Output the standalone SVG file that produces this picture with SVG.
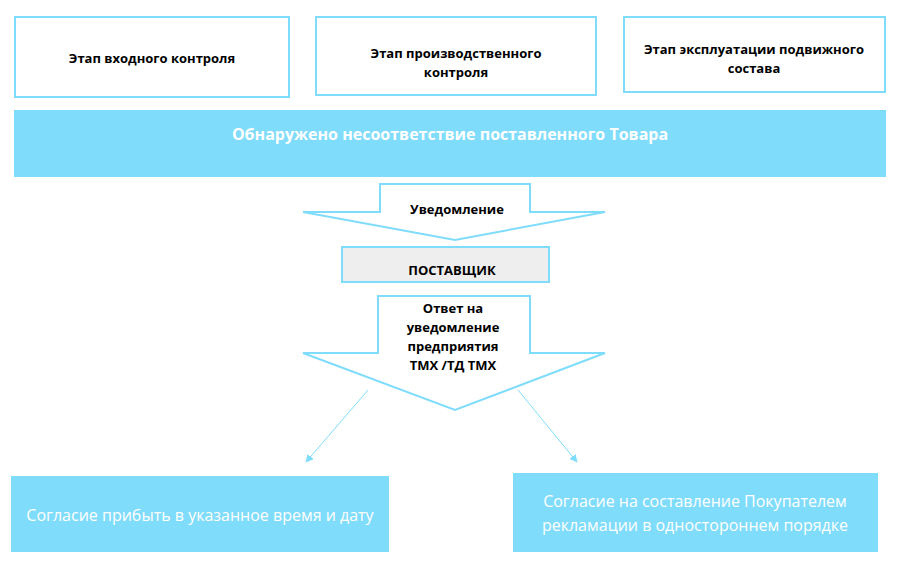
<svg xmlns="http://www.w3.org/2000/svg" width="898" height="571" viewBox="0 0 898 571">
<style>
.b{fill:#fff;stroke:#80dcfb;stroke-width:2}
.f{fill:#80dcfb}
.t{font-family:"Open Sans","Liberation Sans",sans-serif;font-weight:bold;font-size:13px;fill:#000;text-anchor:middle}
.w{font-family:"Open Sans","Liberation Sans",sans-serif;font-size:16px;fill:#fff;text-anchor:middle}
.c{stroke:#80dcfb;stroke-width:1;fill:none}
</style>
<defs><marker id="a" viewBox="0 0 10 10" refX="9" refY="5" markerWidth="8" markerHeight="8" orient="auto"><path d="M0,0L10,5L0,10z" fill="#80dcfb"/></marker></defs>
<rect width="898" height="571" fill="#fff"/>
<g id="n1"><rect class="b" x="15" y="17" width="274" height="80"/><text class="t" x="152" y="63">Этап входного контроля</text></g>
<g id="n2"><rect class="b" x="316" y="17" width="280" height="78"/><text class="t" x="456" y="58">Этап производственного</text><text class="t" x="456" y="77">контроля</text></g>
<g id="n3"><rect class="b" x="624" y="17" width="261" height="75"/><text class="t" x="754" y="54">Этап эксплуатации подвижного</text><text class="t" x="754" y="73">состава</text></g>
<g id="n4"><rect class="f" x="14" y="110" width="872" height="67"/><text class="w" x="450" y="140" font-weight="bold" font-size="14">Обнаружено несоответствие поставленного Товара</text></g>
<g id="n5"><path class="b" d="M380,184H530V212H605L455,240L303,212H380Z"/><text class="t" x="457" y="214">Уведомление</text></g>
<g id="n6"><rect x="342" y="247" width="207" height="35" fill="#eeeeee" stroke="#80dcfb" stroke-width="2"/><text class="t" x="452" y="275" font-size="14">ПОСТАВЩИК</text></g>
<g id="n7"><path class="b" d="M378,296H530V353H605L455,410L303,353H378Z"/><text class="t" x="453" y="313">Ответ на</text><text class="t" x="453" y="332">уведомление</text><text class="t" x="453" y="351">предприятия</text><text class="t" x="453" y="370">ТМХ /ТД ТМХ</text></g>
<g id="n8"><rect class="f" x="11" y="476" width="378" height="76"/><text class="w" x="200" y="521">Согласие прибыть в указанное время и дату</text></g>
<g id="n9"><rect class="f" x="513" y="473" width="365" height="79"/><text class="w" x="695" y="507">Согласие на составление Покупателем</text><text class="w" x="695" y="531">рекламации в одностороннем порядке</text></g>
<g id="connectors"><line class="c" x1="368" y1="390" x2="306" y2="462" marker-end="url(#a)"/><line class="c" x1="518" y1="390" x2="577" y2="462" marker-end="url(#a)"/></g>
</svg>
